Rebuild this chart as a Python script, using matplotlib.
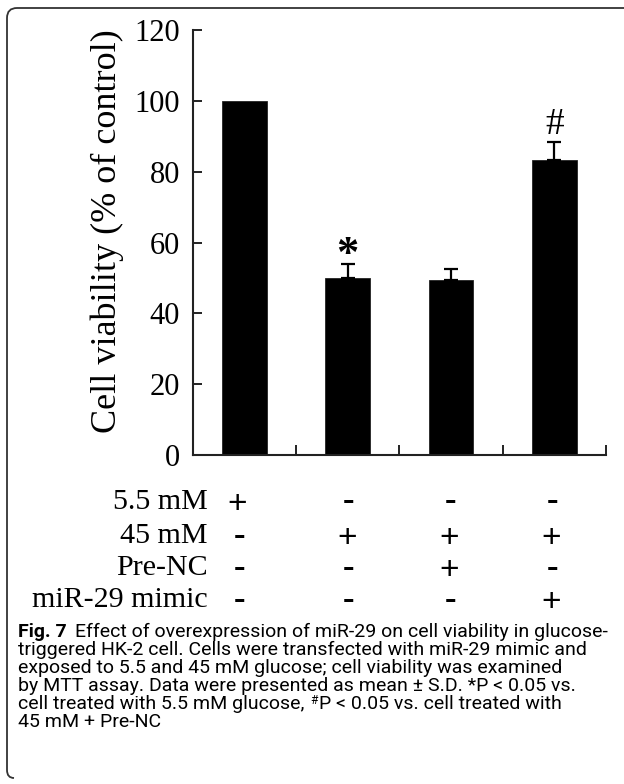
import matplotlib
matplotlib.use("Agg")
import matplotlib.pyplot as plt
from matplotlib.patches import PathPatch
from matplotlib.path import Path

# ---- data ----
groups = ["5.5 mM", "45 mM", "45 mM + Pre-NC", "45 mM + miR-29 mimic"]
viability = [100.0, 49.9, 49.4, 83.3]
sd_err = [0.0, 4.0, 3.0, 5.0]
yticks = [0, 20, 40, 60, 80, 100, 120]
ylabel = "Cell viability (% of control)"
marks = {1: "*", 3: "#"}          # index -> significance mark
mark_y = [None, 56.5, None, 93.3]
row_labels = ["5.5 mM", "45 mM", "Pre-NC", "miR-29 mimic"]
row_signs = [["+", "-", "-", "-"],
             ["-", "+", "+", "+"],
             ["-", "-", "+", "-"],
             ["-", "-", "-", "+"]]
caption_bold = "Fig. 7"
caption_lines = [
    "Effect of overexpression of miR-29 on cell viability in glucose-",
    "triggered HK-2 cell. Cells were transfected with miR-29 mimic and",
    "exposed to 5.5 and 45 mM glucose; cell viability was examined",
    "by MTT assay. Data were presented as mean \u00b1 S.D. *P < 0.05 vs.",
    ["cell treated with 5.5 mM glucose, ", "#", "P < 0.05 vs. cell treated with"],
    "45 mM + Pre-NC",
]

W, H = 624, 784
fig = plt.figure(figsize=(W / 100, H / 100), dpi=100)
renderer = fig.canvas.get_renderer()

def fx(x):
    return x / W

def fy(y):
    return 1 - y / H

ax = fig.add_axes([fx(192.7), fy(455), fx(606) - fx(192.7), fy(30) - fy(455)])
xs = list(range(1, len(viability) + 1))
ax.bar(xs, viability, width=0.435, color="black", edgecolor="#222222", linewidth=0.6)
ex = [x for x, e in zip(xs, sd_err) if e > 0]
ev = [v for v, e in zip(viability, sd_err) if e > 0]
ee = [e for e in sd_err if e > 0]
ax.errorbar(ex, ev, yerr=[[0] * len(ee), ee], fmt="none",
            ecolor="black", elinewidth=1.6, capsize=5.3, capthick=1.6)
for i, m in marks.items():
    ax.text(xs[i], mark_y[i], m, ha="center", va="center",
            fontsize=32 if m == "*" else 27, family="Liberation Serif",
            fontweight="bold" if m == "*" else "normal")

serif = "Liberation Serif"
ax.set_xlim(0.5, 4.5)
ax.set_ylim(0, 120)
ax.set_yticks(yticks)
ax.set_yticklabels([str(t) for t in yticks], family=serif, fontsize=22)
ax.set_xticks([1.5, 2.5, 3.5, 4.5])
ax.set_xticklabels([])
ax.tick_params(axis="x", direction="in", length=7.2, width=1.4, color="#222222")
ax.tick_params(axis="y", direction="in", length=6.5, width=1.4, color="#222222", pad=9)
for s in ["top", "right"]:
    ax.spines[s].set_visible(False)
for s in ["left", "bottom"]:
    ax.spines[s].set_linewidth(1.5)
    ax.spines[s].set_color("#222222")
ax.set_ylabel(ylabel, family=serif, fontsize=26)
ax.yaxis.set_label_coords(-0.166, 0.527)

# condition table
row_y = [502, 536, 568, 600]
col_x = [237, 347, 449, 551]
for r, (lab, yy) in enumerate(zip(row_labels, row_y)):
    fig.text(fx(208), fy(yy), lab, ha="right", va="center", family=serif, fontsize=21.6)
    for c, sgn in enumerate(row_signs[r]):
        if sgn == "+":
            fig.text(fx(col_x[c]), fy(yy + 2), "+", ha="center", va="center",
                     family="Liberation Sans", fontsize=24)
        else:
            fig.text(fx(col_x[c] + 2), fy(yy), "-", ha="center", va="center",
                     family=serif, fontsize=25, fontweight="bold")

# caption, one text per line
cap_base = [637, 655, 673, 691, 709, 727]
cap_size = 14.0
cap_font = "Roboto"
x0 = 18

def put(x, y, s, **kw):
    t = fig.text(fx(x), fy(y), s, ha="left", va="baseline", family=cap_font, **kw)
    return t.get_window_extent(renderer).x1

xe = put(x0, cap_base[0], caption_bold, fontsize=cap_size, fontweight="bold")
put(xe + 8, cap_base[0], caption_lines[0], fontsize=cap_size)
for line, yb in zip(caption_lines[1:], cap_base[1:]):
    if isinstance(line, list):
        xe = put(x0, yb, line[0], fontsize=cap_size)
        xe = put(xe + 1, yb - 5, line[1], fontsize=cap_size * 0.62)
        put(xe + 1, yb, line[2], fontsize=cap_size)
    else:
        put(x0, yb, line, fontsize=cap_size)

# frame
r = 10
verts = [(W + 5, 8), (7 + r, 8), (7, 8), (7, 8 + r), (7, 770), (7, 778), (14, 778)]
codes = [Path.MOVETO, Path.LINETO, Path.CURVE3, Path.CURVE3, Path.LINETO, Path.CURVE3, Path.CURVE3]
verts_fig = [(fx(x), fy(y)) for x, y in verts]
fig.add_artist(PathPatch(Path(verts_fig, codes), transform=fig.transFigure,
                         facecolor="none", edgecolor="#333333", linewidth=1.3))

fig.savefig("out.png", dpi=100)
